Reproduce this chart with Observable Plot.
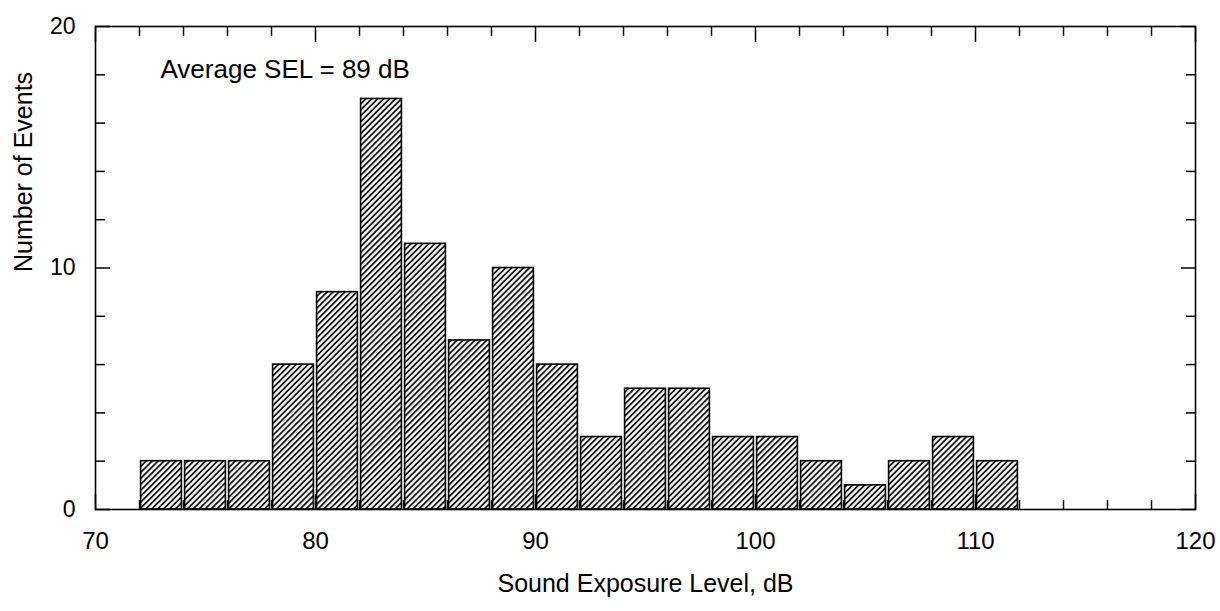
<!DOCTYPE html>
<html>
<head>
<meta charset="utf-8">
<script src="https://cdn.jsdelivr.net/npm/d3@7"></script>
<script src="https://cdn.jsdelivr.net/npm/@observablehq/plot@0.6"></script>
<style>
  html, body { margin: 0; padding: 0; background: #fff; }
  #chart svg { display: block; }
</style>
</head>
<body>
<div id="chart"></div>
<script>
// Histogram bins (dB) and counts
const binLow  = [72, 74, 76, 78, 80, 82, 84, 86, 88, 90, 92, 94, 96, 98, 100, 102, 104, 106, 108, 110];
const binHigh = [74, 76, 78, 80, 82, 84, 86, 88, 90, 92, 94, 96, 98, 100, 102, 104, 106, 108, 110, 112];
const counts  = [2, 2, 2, 6, 9, 17, 11, 7, 10, 6, 3, 5, 5, 3, 3, 2, 1, 2, 3, 2];

const xMajorTicks = [70, 80, 90, 100, 110, 120];
const xMinorTicks = [72, 74, 76, 78, 82, 84, 86, 88, 92, 94, 96, 98, 102, 104, 106, 108, 112, 114, 116, 118];
const yMajorTicks = [0, 10, 20];
const yMinorTicks = [2, 4, 6, 8, 12, 14, 16, 18];

const xLabel = "Sound Exposure Level, dB";
const yLabel = "Number of Events";
const annotation = "Average SEL = 89 dB";

const data = binLow.map((lo, i) => ({lo, hi: binHigh[i], n: counts[i]}));

const font = "'Liberation Sans', Arial, Helvetica, sans-serif";

const chart = Plot.plot({
  width: 1220,
  height: 611,
  marginLeft: 95,
  marginRight: 25,
  marginTop: 26,
  marginBottom: 102,
  style: {fontFamily: font, background: "#fff", color: "#000"},
  x: {domain: [70, 120]},
  y: {domain: [0, 20]},
  marks: [
    Plot.rectY(data, {
      x1: "lo", x2: "hi", y: "n",
      fill: "url(#hatch)", stroke: "#000", strokeWidth: 1.6,
      insetLeft: 1.6, insetRight: 1.6
    }),
    Plot.frame({stroke: "#000", strokeWidth: 1.6}),
    // bottom axis: labels
    Plot.axisX({anchor: "bottom", ticks: xMajorTicks, tickSize: 0, tickPadding: 22, fontSize: 24, label: null}),
    // inward ticks on all four sides
    Plot.axisX({anchor: "bottom", ticks: xMajorTicks, tickSize: -15, tickFormat: () => "", label: null, strokeWidth: 1.5}),
    Plot.axisX({anchor: "bottom", ticks: xMinorTicks, tickSize: -9, tickFormat: () => "", label: null, strokeWidth: 1.5}),
    Plot.axisX({anchor: "top", ticks: xMajorTicks, tickSize: -15, tickFormat: () => "", label: null, strokeWidth: 1.5}),
    Plot.axisX({anchor: "top", ticks: xMinorTicks, tickSize: -9, tickFormat: () => "", label: null, strokeWidth: 1.5}),
    // left axis: labels
    Plot.axisY({anchor: "left", ticks: yMajorTicks, tickSize: 0, tickPadding: 20, fontSize: 23, label: null}),
    Plot.axisY({anchor: "left", ticks: yMajorTicks, tickSize: -15, tickFormat: () => "", label: null, strokeWidth: 1.5}),
    Plot.axisY({anchor: "left", ticks: yMinorTicks, tickSize: -10, tickFormat: () => "", label: null, strokeWidth: 1.5}),
    Plot.axisY({anchor: "right", ticks: yMajorTicks, tickSize: -15, tickFormat: () => "", label: null, strokeWidth: 1.5}),
    Plot.axisY({anchor: "right", ticks: yMinorTicks, tickSize: -10, tickFormat: () => "", label: null, strokeWidth: 1.5}),
    // axis titles
    Plot.text([xLabel], {text: d => d, frameAnchor: "bottom", dy: 74, fontSize: 25, lineAnchor: "middle", fill: "#000"}),
    Plot.text([yLabel], {text: d => d, frameAnchor: "left", dx: -72, dy: 4, rotate: -90, fontSize: 25, lineAnchor: "middle", fill: "#000"}),
    // annotation
    Plot.text([annotation], {text: d => d, frameAnchor: "top-left", dx: 65, dy: 43, textAnchor: "start", lineAnchor: "middle", fontSize: 26, fill: "#000"})
  ]
});

// hatch pattern for the bars
const ns = "http://www.w3.org/2000/svg";
const defs = document.createElementNS(ns, "defs");
const pat = document.createElementNS(ns, "pattern");
pat.setAttribute("id", "hatch");
pat.setAttribute("patternUnits", "userSpaceOnUse");
pat.setAttribute("width", "4.2");
pat.setAttribute("height", "4.2");
pat.setAttribute("patternTransform", "rotate(45)");
const bg = document.createElementNS(ns, "rect");
bg.setAttribute("width", "4.2");
bg.setAttribute("height", "4.2");
bg.setAttribute("fill", "#fff");
const ln = document.createElementNS(ns, "line");
ln.setAttribute("x1", "1");
ln.setAttribute("y1", "0");
ln.setAttribute("x2", "1");
ln.setAttribute("y2", "4.2");
ln.setAttribute("stroke", "#000");
ln.setAttribute("stroke-width", "1.7");
pat.appendChild(bg);
pat.appendChild(ln);
defs.appendChild(pat);
chart.insertBefore(defs, chart.firstChild);

document.getElementById("chart").appendChild(chart);
</script>
</body>
</html>
